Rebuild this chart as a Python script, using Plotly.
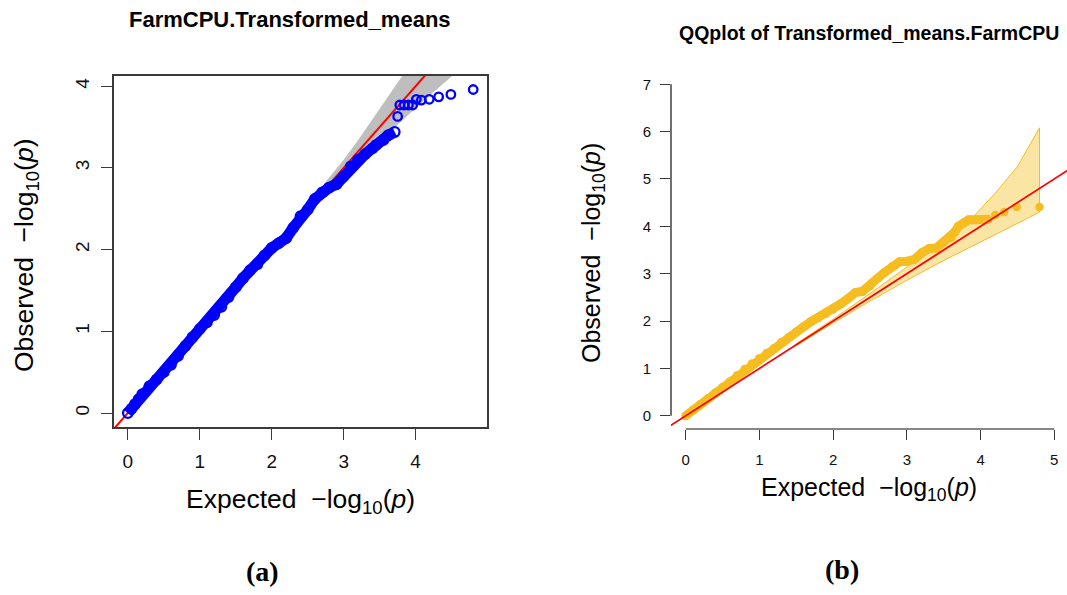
import plotly.graph_objects as go

# ---------------- data ----------------
# Panel (a): FarmCPU QQ plot, dense part of the point cloud
a_dense_x = [0.00, 0.05, 0.10, 0.15, 0.20, 0.30, 0.40, 0.50, 0.60, 0.70, 0.80, 0.90,
             1.00, 1.10, 1.20, 1.30, 1.40, 1.50, 1.60, 1.70, 1.80, 1.90, 2.00, 2.10,
             2.20, 2.30, 2.40, 2.50, 2.60, 2.70, 2.80, 2.90, 3.00, 3.10, 3.20, 3.30,
             3.40, 3.45, 3.55, 3.62, 3.71]
a_dense_y = [0.00, 0.05, 0.11, 0.17, 0.23, 0.33, 0.41, 0.50, 0.59, 0.70, 0.82, 0.93,
             1.03, 1.11, 1.20, 1.30, 1.42, 1.54, 1.65, 1.75, 1.82, 1.93, 2.02, 2.08,
             2.14, 2.27, 2.41, 2.49, 2.62, 2.70, 2.76, 2.80, 2.90, 3.02, 3.10, 3.17,
             3.24, 3.28, 3.34, 3.40, 3.44]
# Panel (a): isolated top points
a_tail_x = [3.75, 3.78, 3.84, 3.90, 3.96, 4.01, 4.08, 4.19, 4.32, 4.49, 4.80]
a_tail_y = [3.63, 3.77, 3.77, 3.77, 3.77, 3.84, 3.83, 3.84, 3.87, 3.90, 3.96]
# Panel (a): confidence band
a_band_x = [2.6, 2.8, 3.0, 3.2, 3.4, 3.6, 3.8, 4.0, 4.2, 4.4, 4.6, 4.8]
a_band_lo = [2.53, 2.69, 2.88, 3.05, 3.22, 3.41, 3.57, 3.73, 3.89, 4.05, 4.20, 4.35]
a_band_hi = [2.67, 2.88, 3.10, 3.34, 3.59, 3.84, 4.09, 4.34, 4.62, 4.92, 5.25, 5.65]
a_xticks = [0, 1, 2, 3, 4]
a_yticks = [0, 1, 2, 3, 4]

# Panel (b): QQplot of Transformed_means.FarmCPU
b_dense_x = [0.00, 0.10, 0.20, 0.30, 0.40, 0.50, 0.60, 0.70, 0.80, 0.90, 1.00, 1.10,
             1.20, 1.30, 1.40, 1.50, 1.60, 1.70, 1.80, 1.90, 2.00, 2.10, 2.20, 2.30,
             2.40, 2.50, 2.60, 2.70, 2.80, 2.90, 3.00, 3.10, 3.20, 3.30, 3.40, 3.50,
             3.60, 3.65, 3.70, 3.77, 3.84, 3.95, 4.05, 4.10]
b_dense_y = [0.00, 0.12, 0.24, 0.36, 0.48, 0.60, 0.72, 0.85, 0.98, 1.10, 1.21, 1.32,
             1.42, 1.55, 1.66, 1.77, 1.88, 1.99, 2.07, 2.16, 2.25, 2.36, 2.47, 2.60,
             2.63, 2.74, 2.90, 3.03, 3.15, 3.25, 3.26, 3.30, 3.44, 3.53, 3.54, 3.67,
             3.76, 3.88, 4.00, 4.07, 4.14, 4.14, 4.14, 4.15]
b_tail_x = [4.20, 4.32, 4.49, 4.80]
b_tail_y = [4.24, 4.30, 4.41, 4.41]
b_band_x = [1.5, 2.0, 2.5, 3.0, 3.5, 3.9, 4.2, 4.5, 4.8]
b_band_lo = [1.48, 1.96, 2.42, 2.86, 3.28, 3.60, 3.83, 4.06, 4.30]
b_band_hi = [1.52, 2.04, 2.58, 3.14, 3.72, 4.20, 4.70, 5.26, 6.08]
b_xticks = [0, 1, 2, 3, 4, 5]
b_yticks = [0, 1, 2, 3, 4, 5, 6, 7]

ref_line = [-1, 8]  # y = x reference line

# ---------------- styling ----------------
W, H = 1067, 595
BLUE = "#0000FF"
GOLD = "#F5BD1F"
RED = "#FF0000"
SANS = "Liberation Sans, Arial, sans-serif"
SERIF = "Liberation Serif, Times New Roman, serif"
AXC = "#3a3a3a"


def px(x):
    return x / W


def py(y):
    return 1 - y / H


fig = go.Figure()

# ---- panel (a) ----
fig.add_trace(go.Scatter(
    x=a_band_x + a_band_x[::-1], y=a_band_hi + a_band_lo[::-1],
    fill="toself", fillcolor="#BEBEBE", line=dict(width=0), mode="lines",
    xaxis="x", yaxis="y", hoverinfo="skip", showlegend=False))
fig.add_trace(go.Scatter(
    x=ref_line, y=ref_line, mode="lines", line=dict(color=RED, width=2),
    xaxis="x", yaxis="y", showlegend=False))
fig.add_trace(go.Scatter(
    x=a_dense_x, y=a_dense_y, mode="lines+markers",
    line=dict(color=BLUE, width=11),
    marker=dict(symbol="circle-open", size=9.5, color=BLUE, line=dict(width=2.3)),
    xaxis="x", yaxis="y", showlegend=False))
fig.add_trace(go.Scatter(
    x=a_tail_x, y=a_tail_y, mode="markers",
    marker=dict(symbol="circle-open", size=8.5, color=BLUE, line=dict(width=2.3)),
    xaxis="x", yaxis="y", showlegend=False))

# ---- panel (b) ----
fig.add_trace(go.Scatter(
    x=b_band_x + b_band_x[::-1], y=b_band_hi + b_band_lo[::-1],
    fill="toself", fillcolor="rgba(245,189,31,0.40)",
    line=dict(color=GOLD, width=1), mode="lines",
    xaxis="x2", yaxis="y2", hoverinfo="skip", showlegend=False))
fig.add_trace(go.Scatter(
    x=b_dense_x, y=b_dense_y, mode="lines+markers",
    line=dict(color=GOLD, width=9),
    marker=dict(symbol="circle", size=9, color=GOLD),
    xaxis="x2", yaxis="y2", showlegend=False))
fig.add_trace(go.Scatter(
    x=b_tail_x, y=b_tail_y, mode="markers",
    marker=dict(symbol="circle", size=8.5, color=GOLD),
    xaxis="x2", yaxis="y2", showlegend=False))
fig.add_trace(go.Scatter(
    x=ref_line, y=ref_line, mode="lines", line=dict(color=RED, width=1.8),
    xaxis="x2", yaxis="y2", showlegend=False))

axis_common = dict(showgrid=False, zeroline=False, ticks="outside",
                   tickcolor=AXC, tickwidth=1.2)

fig.update_layout(
    width=W, height=H,
    margin=dict(l=0, r=0, t=0, b=0),
    paper_bgcolor="white", plot_bgcolor="white",
    showlegend=False,
    xaxis=dict(domain=[px(114), px(487)], range=[-0.192, 4.992],
               tickvals=a_xticks, ticklen=11, showline=True, mirror=True,
               linecolor=AXC, linewidth=1.5, anchor="y",
               tickfont=dict(family=SANS, size=19, color="#111"),
               ticklabelstandoff=5, **axis_common),
    yaxis=dict(domain=[py(427), py(76)], range=[-0.171, 4.125],
               tickvals=a_yticks, ticklen=11, showline=True, mirror=True,
               linecolor=AXC, linewidth=1.5, anchor="x", tickangle=-90,
               tickfont=dict(family=SANS, size=19, color="#111"),
               ticklabelstandoff=5, **axis_common),
    xaxis2=dict(domain=[px(671), 1.0], range=[-0.2, 5.173],
                tickvals=b_xticks, ticklen=10, showline=False, anchor="y2",
                tickfont=dict(family=SANS, size=15, color="#111"),
                ticklabelstandoff=7, **axis_common),
    yaxis2=dict(domain=[py(429), py(71)], range=[-0.28, 7.28],
                tickvals=b_yticks, ticklen=10, showline=False, anchor="x2",
                tickfont=dict(family=SANS, size=15, color="#111"),
                ticklabelstandoff=6, **axis_common),
)

# axis lines for panel (b), spanning first to last tick (R style)
fig.add_shape(type="line", xref="x2", yref="y2 domain",
              x0=min(b_xticks), x1=max(b_xticks), y0=0, y1=0,
              line=dict(color="#111", width=1.2))
fig.add_shape(type="line", xref="x2 domain", yref="y2",
              x0=0, x1=0, y0=min(b_yticks), y1=max(b_yticks),
              line=dict(color="#111", width=1.2))

lab = "\u2212log<sub>10</sub>(<i>p</i>)"
ann = [
    dict(text="<b>FarmCPU.Transformed_means</b>", x=px(290), y=py(19),
         font=dict(family=SANS, size=22, color="black")),
    dict(text="<b>QQplot of Transformed_means.FarmCPU</b>", x=px(869), y=py(33),
         font=dict(family=SANS, size=19.5, color="black")),
    dict(text="Expected\u00a0 " + lab, x=px(300.5), y=py(501),
         font=dict(family=SANS, size=26.5, color="black")),
    dict(text="Observed\u00a0 " + lab, x=px(26), y=py(255), textangle=-90,
         font=dict(family=SANS, size=26.5, color="black")),
    dict(text="Expected\u00a0 " + lab, x=px(869), y=py(489),
         font=dict(family=SANS, size=25, color="black")),
    dict(text="Observed\u00a0 " + lab, x=px(593), y=py(253), textangle=-90,
         font=dict(family=SANS, size=25, color="black")),
    dict(text="<b>(a)</b>", x=px(262.5), y=py(571),
         font=dict(family=SERIF, size=28, color="black")),
    dict(text="<b>(b)</b>", x=px(841.5), y=py(569),
         font=dict(family=SERIF, size=28, color="black")),
]
for a in ann:
    fig.add_annotation(xref="paper", yref="paper", showarrow=False,
                       xanchor="center", yanchor="middle", **a)

fig.write_html("out.html")
